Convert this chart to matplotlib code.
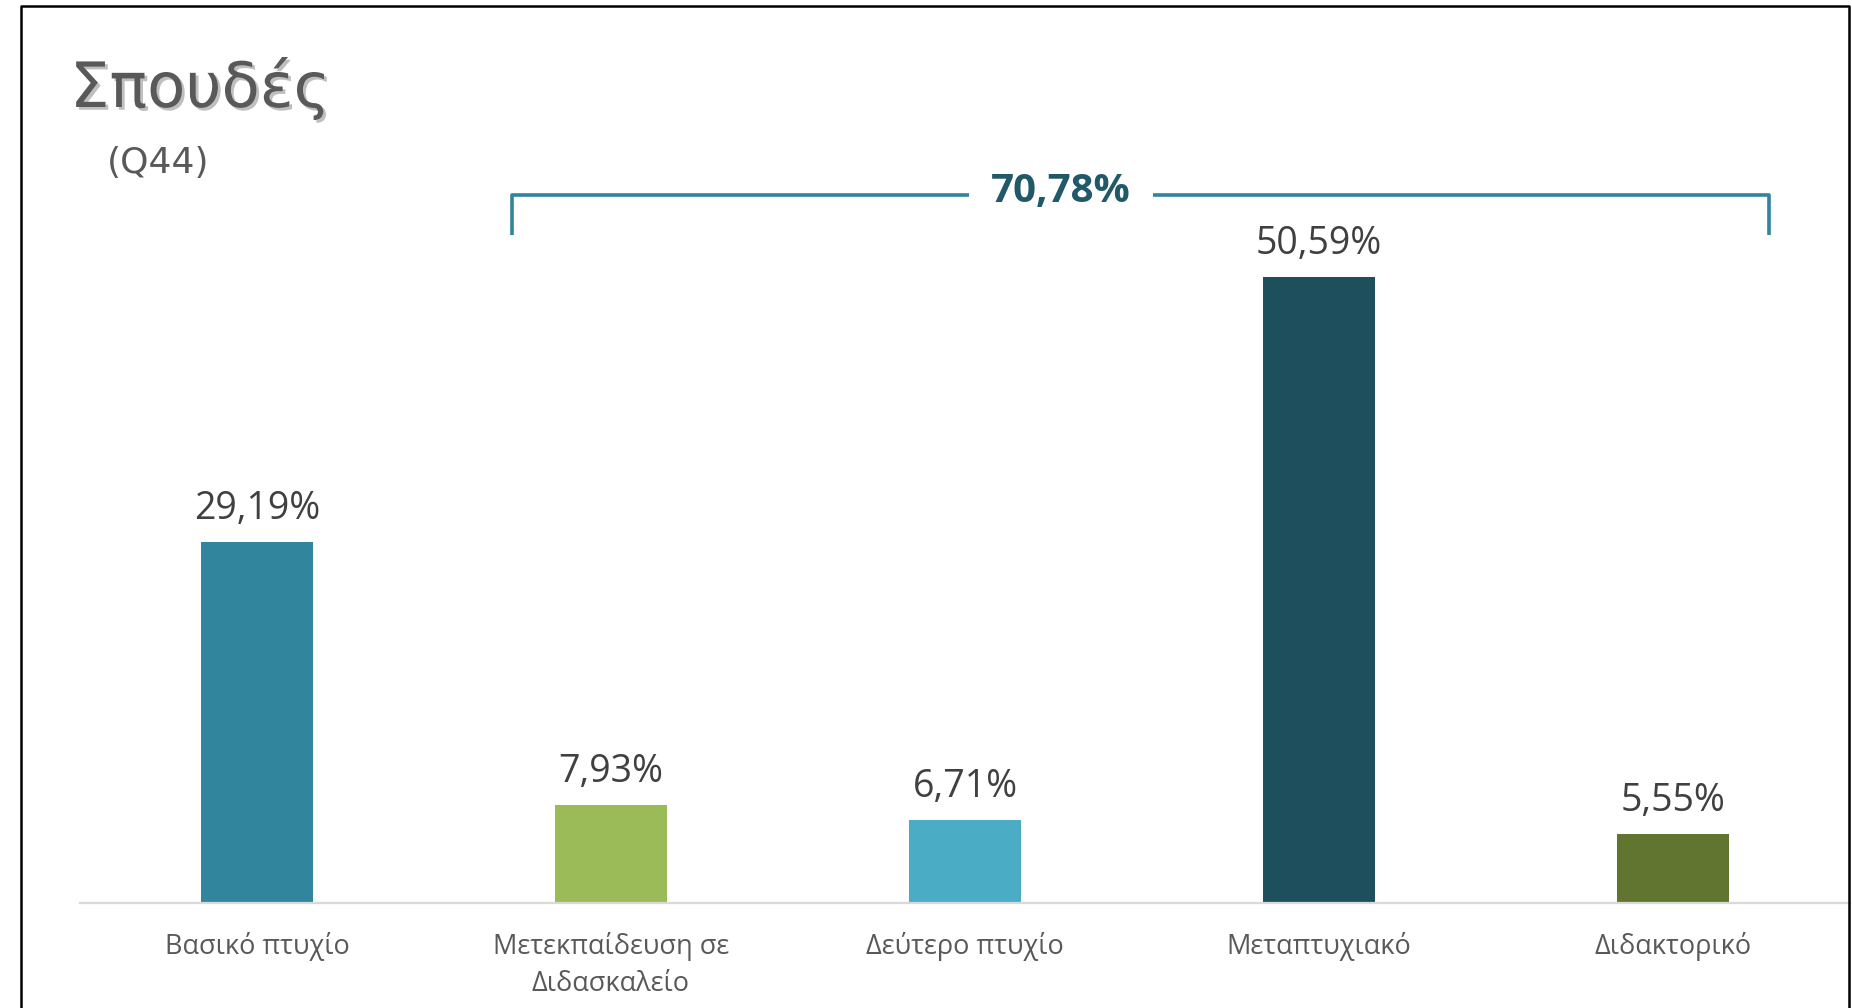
import numpy as np
import matplotlib
matplotlib.use("Agg")
from matplotlib import pyplot as plt
from matplotlib import patheffects as pe
from matplotlib.lines import Line2D

# data
categories = ["Βασικό πτυχίο", "Μετεκπαίδευση σε\nΔιδασκαλείο", "Δεύτερο πτυχίο",
              "Μεταπτυχιακό", "Διδακτορικό"]
values = [29.19, 7.93, 6.71, 50.59, 5.55]
colors = ["#31859C", "#9BBB59", "#4BACC6", "#1D4F5C", "#617530"]
group_idx = [1, 2, 3, 4]          # categories summed by the bracket
group_total = "70,78%"

W, H = 1852, 1008
fig = plt.figure(figsize=(W / 100, H / 100), dpi=100)
fig.patch.set_facecolor("white")

# axes placed so that the baseline sits at y=903px and spans x=80..1850px
ax = fig.add_axes([80 / W, 1 - 903 / H, 1770 / W, 903 / H])
x = np.arange(len(categories))
ax.bar(x, values, width=0.316, color=colors, zorder=2)
ax.set_xlim(-0.5, len(categories) - 0.5)
ax.set_ylim(0, 903 / 12.367)

for s in ["top", "right", "left"]:
    ax.spines[s].set_visible(False)
ax.spines["bottom"].set_color("#D9D9D9")
ax.spines["bottom"].set_linewidth(1.6)
ax.set_yticks([])
ax.set_xticks(x)
ax.set_xticklabels(categories, fontsize=19.5, color="#595959", family="Open Sans",
                   linespacing=1.42)
ax.tick_params(axis="x", length=0, pad=21)

# value labels
for xi, v in zip(x, values):
    ax.annotate(f"{v:.2f}".replace(".", ",") + "%", (xi, v), xytext=(0, 16.5),
                textcoords="offset points", ha="center", va="baseline",
                fontsize=27, color="#404040", family="Open Sans")

# bracket over the grouped categories
bx0 = group_idx[0] - 0.28
bx1 = group_idx[-1] + 0.27
by = (903 - 195) / 12.367
by_low = (903 - 235) / 12.367
tx = 2.27
gap = 0.26
bc = "#31849B"
lw = 2.6
ax.plot([bx0, bx0, tx - gap], [by_low, by, by], color=bc, lw=lw,
        solid_joinstyle="round", solid_capstyle="butt", clip_on=False)
ax.plot([tx + gap, bx1, bx1], [by, by, by_low], color=bc, lw=lw,
        solid_joinstyle="round", solid_capstyle="butt", clip_on=False)
ax.text(tx, (903 - 202) / 12.367, group_total, ha="center", va="baseline", fontsize=29,
        fontweight="bold", color="#215968", family="Open Sans")

# title
fig.text(70 / W, 1 - 107 / H, "Σπουδές", fontsize=45, color="#595959",
         family="DejaVu Sans", va="baseline", ha="left",
         path_effects=[pe.SimplePatchShadow(offset=(2, -2), shadow_rgbFace="#808080", alpha=0.5),
                       pe.Normal()])
fig.text(107 / W, 1 - 173 / H, "(Q44)", fontsize=26, color="#595959",
         family="DejaVu Sans", va="baseline", ha="left")

# frame around the slide area (left, top, right)
fx0, fx1, fy0 = 21 / W, 1849 / W, 1 - 6 / H
fig.add_artist(Line2D([fx0, fx0, fx1, fx1], [0, fy0, fy0, 0], color="black", lw=1.8))

fig.savefig("out.png", dpi=100)
